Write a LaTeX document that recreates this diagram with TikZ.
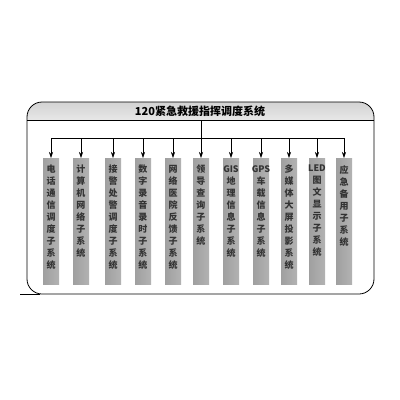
\documentclass[tikz,border=0pt]{standalone}
\usepackage{fontspec}
\newfontfamily\cjk{Noto Sans CJK SC}
\usetikzlibrary{positioning,arrows.meta}
\tikzset{
    column/.style={minimum width=16pt, minimum height=126pt, inner sep=0pt, anchor=north,
        left color=gray!75, middle color=gray!20, right color=gray!60},
    lbl/.style={anchor=north, inner sep=0pt, align=center, text=black!80,
        font=\cjk\bfseries\fontsize{9}{12}\selectfont},
    feed/.style={-{Stealth[length=6pt,width=4pt]}, line width=0.6pt}
}
\begin{document}
\begin{tikzpicture}[x=1pt,y=-1pt]
    \useasboundingbox (0,0) rectangle (400,400);

    % title band
    \begin{scope}
        \clip (0,0) rectangle (400,120);
        \shade[top color=gray!35, bottom color=white, rounded corners=15] (27,102) rectangle (374,140);
    \end{scope}
    \draw[line width=0.8pt, rounded corners=15] (27,102) rectangle (374,294);
    \draw[line width=0.8pt] (20,294) -- (40,294);
    \draw[line width=0.6pt] (27,120) -- (374,120);
    \node[font=\cjk\bfseries\fontsize{11}{13}\selectfont] (title) at (200,111) {120紧急救援指挥调度系统};
    \coordinate (top) at (201,120);

    % columns
    \node[column] (col1) at (51,158) {};
    \node[column] (col2) at (81,158) {};
    \node[column] (col3) at (113,158) {};
    \node[column] (col4) at (143,158) {};
    \node[column] (col5) at (173,158) {};
    \node[column] (col6) at (201,158) {};
    \node[column] (col7) at (231,158) {};
    \node[column] (col8) at (261,158) {};
    \node[column] (col9) at (289,158) {};
    \node[column] (col10) at (317,158) {};
    \node[column] (col11) at (344,158) {};

    \node[lbl, below=7pt of col1.north] (lbl1) {电\\话\\通\\信\\调\\度\\子\\系\\统};
    \node[lbl, below=7pt of col2.north] (lbl2) {计\\算\\机\\网\\络\\子\\系\\统};
    \node[lbl, below=7pt of col3.north] (lbl3) {接\\警\\处\\警\\调\\度\\子\\系\\统};
    \node[lbl, below=7pt of col4.north] (lbl4) {数\\字\\录\\音\\录\\时\\子\\系\\统};
    \node[lbl, below=7pt of col5.north] (lbl5) {网\\络\\医\\院\\反\\馈\\子\\系\\统};
    \node[lbl, below=7pt of col6.north] (lbl6) {领\\导\\查\\询\\子\\系\\统};
    \node[lbl, below=7pt of col7.north] (lbl7) {GIS\\地\\理\\信\\息\\子\\系\\统};
    \node[lbl, below=7pt of col8.north] (lbl8) {GPS\\车\\载\\信\\息\\子\\系\\统};
    \node[lbl, below=7pt of col9.north] (lbl9) {多\\媒\\体\\大\\屏\\投\\影\\系\\统};
    \node[lbl, below=7pt of col10.north] (lbl10) {LED\\图\\文\\显\\示\\子\\系\\统};
    \node[lbl, below=7pt of col11.north] (lbl11) {应\\急\\备\\用\\子\\系\\统};

    % bus
    \coordinate (bus1) at (51,138);
    \coordinate (bus2) at (81,138);
    \coordinate (bus3) at (113,138);
    \coordinate (bus4) at (143,138);
    \coordinate (bus5) at (173,138);
    \coordinate (bus6) at (201,138);
    \coordinate (bus7) at (231,138);
    \coordinate (bus8) at (261,138);
    \coordinate (bus9) at (289,138);
    \coordinate (bus10) at (317,138);
    \coordinate (bus11) at (344,138);
    \draw[line width=0.6pt] (top) -- (bus6);
    \draw[line width=0.6pt] (bus1) -- (bus11);

    \draw[feed] (bus1) -- (col1.north);
    \draw[feed] (bus2) -- (col2.north);
    \draw[feed] (bus3) -- (col3.north);
    \draw[feed] (bus4) -- (col4.north);
    \draw[feed] (bus5) -- (col5.north);
    \draw[feed] (bus6) -- (col6.north);
    \draw[feed] (bus7) -- (col7.north);
    \draw[feed] (bus8) -- (col8.north);
    \draw[feed] (bus9) -- (col9.north);
    \draw[feed] (bus10) -- (col10.north);
    \draw[feed] (bus11) -- (col11.north);
\end{tikzpicture}
\end{document}
